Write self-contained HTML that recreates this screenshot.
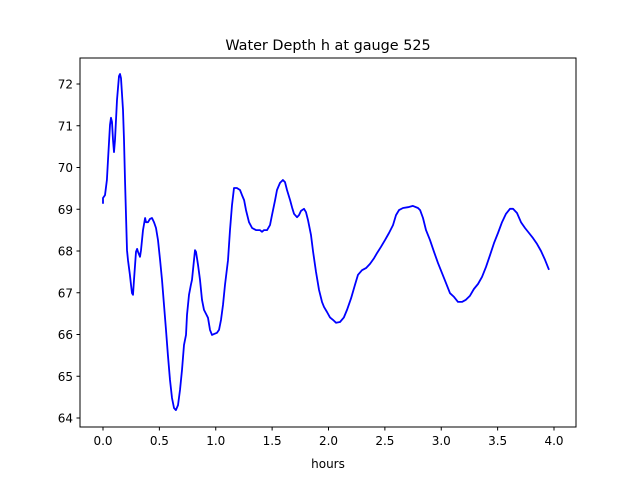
<!DOCTYPE html>
<html><head><meta charset="utf-8"><style>
body{margin:0;background:#fff;font-family:"DejaVu Sans","Liberation Sans",sans-serif}
svg text{font-family:"DejaVu Sans","Liberation Sans",sans-serif;fill:#000}
</style></head><body>
<svg id="chart" width="640" height="480" viewBox="0 0 640 480" xmlns="http://www.w3.org/2000/svg">
<rect width="640" height="480" fill="#fff"/>
<text x="328" y="50" font-size="14.4" text-anchor="middle">Water Depth h at gauge 525</text>
<g id="plot"></g>
<rect x="80" y="58" width="496" height="369" fill="none" stroke="#000" stroke-width="1"/>
<text x="328" y="468" font-size="12" text-anchor="middle">hours</text>
</svg>
<script>
const hours=[0,0,0.018,0.035,0.044,0.062,0.071,0.080,0.089,0.098,0.106,0.124,0.142,0.151,0.160,0.177,0.186,0.195,0.204,0.213,0.222,0.239,0.248,0.257,0.266,0.275,0.293,0.302,0.310,0.328,0.337,0.355,0.373,0.381,0.399,0.417,0.435,0.452,0.470,0.488,0.506,0.523,0.541,0.559,0.576,0.594,0.612,0.630,0.647,0.665,0.683,0.701,0.718,0.736,0.745,0.763,0.780,0.789,0.816,0.825,0.843,0.860,0.878,0.896,0.914,0.931,0.949,0.967,0.984,1.011,1.029,1.047,1.064,1.082,1.109,1.126,1.144,1.162,1.188,1.215,1.233,1.251,1.268,1.295,1.322,1.357,1.392,1.410,1.428,1.455,1.481,1.499,1.526,1.543,1.570,1.596,1.614,1.632,1.659,1.676,1.694,1.721,1.738,1.756,1.783,1.800,1.818,1.845,1.863,1.889,1.916,1.942,1.960,1.987,2.013,2.040,2.067,2.102,2.137,2.164,2.200,2.235,2.262,2.297,2.333,2.368,2.404,2.430,2.466,2.501,2.537,2.572,2.599,2.625,2.661,2.705,2.749,2.794,2.812,2.838,2.865,2.900,2.936,2.971,3.007,3.042,3.078,3.113,3.149,3.184,3.219,3.255,3.290,3.326,3.361,3.397,3.432,3.468,3.503,3.539,3.574,3.610,3.636,3.672,3.707,3.743,3.778,3.814,3.849,3.885,3.920,3.956,4.0];
const depth=[69.13,69.27,69.34,69.70,70.18,71.02,71.19,71.09,70.66,70.37,70.66,71.62,72.19,72.24,72.14,71.38,70.66,69.70,68.86,68.02,67.78,67.43,67.19,66.99,66.95,67.31,67.98,68.05,67.98,67.86,68.02,68.50,68.79,68.69,68.69,68.77,68.79,68.69,68.55,68.26,67.78,67.31,66.71,66.11,65.51,64.91,64.48,64.24,64.19,64.31,64.67,65.15,65.75,65.99,66.47,66.95,67.19,67.31,68.02,67.98,67.67,67.31,66.83,66.59,66.49,66.40,66.11,65.99,66.01,66.04,66.11,66.35,66.71,67.19,67.78,68.50,69.10,69.51,69.51,69.46,69.34,69.22,68.98,68.69,68.55,68.50,68.50,68.46,68.50,68.50,68.62,68.86,69.22,69.46,69.63,69.70,69.65,69.46,69.22,69.05,68.89,68.81,68.86,68.96,69.01,68.93,68.74,68.38,67.98,67.50,67.07,66.78,66.66,66.54,66.41,66.35,66.28,66.30,66.41,66.59,66.87,67.19,67.43,67.54,67.59,67.69,67.83,67.95,68.10,68.26,68.43,68.62,68.86,68.98,69.03,69.05,69.08,69.03,68.98,68.79,68.50,68.26,67.98,67.71,67.47,67.23,66.99,66.90,66.78,66.78,66.83,66.93,67.09,67.21,67.38,67.62,67.90,68.19,68.43,68.69,68.89,69.01,69.01,68.91,68.69,68.55,68.43,68.31,68.17,68.00,67.79,67.55];
const xTicks=[0,0.5,1,1.5,2,2.5,3,3.5,4];
const xTickLabels=["0.0","0.5","1.0","1.5","2.0","2.5","3.0","3.5","4.0"];
const yTicks=[64,65,66,67,68,69,70,71,72];
const yTickLabels=["64","65","66","67","68","69","70","71","72"];
const NS="http://www.w3.org/2000/svg";
const xs=h=>103+h*112.75;
const ys=d=>84+(72-d)*41.75;
const g=document.getElementById('plot');
xTicks.forEach((t,i)=>{
  const l=document.createElementNS(NS,'line');
  
  
  l.setAttribute('x1',xs(t));l.setAttribute('x2',xs(t));l.setAttribute('y1',427);l.setAttribute('y2',430.5);l.setAttribute('stroke','#000');
  g.appendChild(l);
  const tx=document.createElementNS(NS,'text');
  
  
  tx.setAttribute('x',xs(t));tx.setAttribute('y',445);tx.setAttribute('font-size','12');tx.setAttribute('text-anchor','middle');
  tx.textContent=xTickLabels[i];g.appendChild(tx);
});
yTicks.forEach((t,i)=>{
  const l=document.createElementNS(NS,'line');
  
  
  l.setAttribute('x1',76.5);l.setAttribute('x2',80);l.setAttribute('y1',ys(t));l.setAttribute('y2',ys(t));l.setAttribute('stroke','#000');
  g.appendChild(l);
  const tx=document.createElementNS(NS,'text');
  
  
  tx.setAttribute('x',73);tx.setAttribute('y',ys(t)+4.5);tx.setAttribute('font-size','12');tx.setAttribute('text-anchor','end');
  tx.textContent=yTickLabels[i];g.appendChild(tx);
});
const p=document.createElementNS(NS,'path');


p.setAttribute('d',hours.map((h,i)=>(i?'L':'M')+xs(h).toFixed(1)+','+ys(depth[i]).toFixed(1)).join(''));
p.setAttribute('fill','none');p.setAttribute('stroke','#0000ff');p.setAttribute('stroke-width','1.8');p.setAttribute('stroke-linejoin','round');
g.appendChild(p);
</script>
</body></html>
